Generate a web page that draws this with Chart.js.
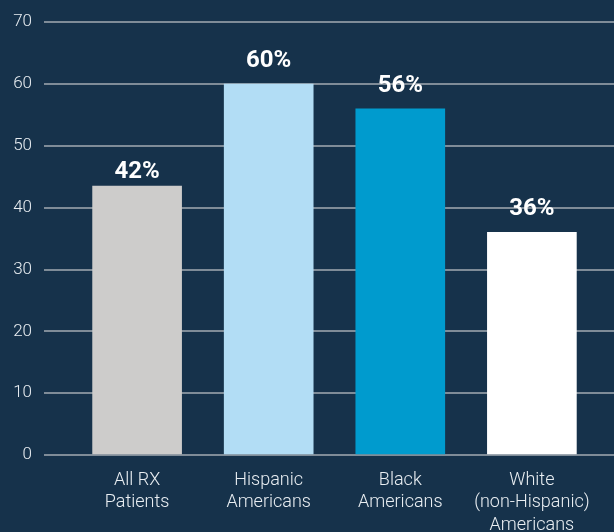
<!DOCTYPE html>
<html>
<head>
<meta charset="utf-8">
<script src="https://cdn.jsdelivr.net/npm/chart.js@4.4.1/dist/chart.umd.min.js"></script>
<style>
  html, body { margin: 0; padding: 0; background: #16324b; overflow: hidden; }
  canvas { display: block; }
</style>
</head>
<body>
<canvas id="chart" width="614" height="532"></canvas>
<script>
'use strict';

// ── Data ─────────────────────────────────────────────────────────────────────
const categories = [
  ['All RX', 'Patients'],
  ['Hispanic', 'Americans'],
  ['Black', 'Americans'],
  ['White', '(non-Hispanic)', 'Americans'],
];
const barValues   = [43.5, 60, 56, 36];      // bar heights as drawn
const labelValues = [42, 60, 56, 36];        // printed percentages
const yTicks      = [0, 10, 20, 30, 40, 50, 60, 70];

const COLORS = {
  bg:    '#16324b',
  grid:  '#7f8c98',
  text:  '#e9eef2',
  bars:  ['#cdcccb', '#b2ddf5', '#009bce', '#ffffff'],
};

// value labels above the bars, positioned on the y scale
const valueLabels = {
  id: 'valueLabels',
  afterDatasetsDraw(chart) {
    const { ctx, scales: { y } } = chart;
    const meta = chart.getDatasetMeta(0);
    ctx.save();
    ctx.fillStyle = '#ffffff';
    ctx.font = 'bold 24px Roboto';
    ctx.textAlign = 'center';
    ctx.textBaseline = 'alphabetic';
    meta.data.forEach((bar, i) => {
      ctx.fillText(labelValues[i] + '%', bar.x, y.getPixelForValue(labelValues[i]) - 17);
    });
    ctx.restore();
  },
};

new Chart(document.getElementById('chart'), {
  type: 'bar',
  data: {
    datasets: [{
      data: barValues.map((v, i) => ({ x: i, y: v })),
      backgroundColor: COLORS.bars,
      borderWidth: 0,
      barThickness: 89,
    }],
  },
  options: {
    responsive: false,
    animation: false,
    devicePixelRatio: 1,
    layout: { padding: { top: 20, right: 0, bottom: 0, left: 0 } },
    plugins: { legend: { display: false }, tooltip: { enabled: false } },
    scales: {
      x: {
        type: 'linear',
        offset: false,
        bounds: 'data',
        min: -0.7075,
        max: 3.624,
        grid: { display: false, drawTicks: false, offset: false },
        border: { display: false },
        afterBuildTicks: (s) => { s.ticks = categories.map((c, i) => ({ value: i })); },
        afterFit: (s) => { s.height = 77; },
        ticks: {
          color: COLORS.text,
          font: { family: 'Roboto', size: 18, weight: 300, lineHeight: 1.25 },
          padding: 14,
          maxRotation: 0,
          autoSkip: false,
          callback: (v) => categories[v],
        },
      },
      y: {
        min: 0,
        max: 70,
        afterBuildTicks: (s) => { s.ticks = yTicks.map(v => ({ value: v })); },
        afterFit: (s) => { s.width = 44; },
        grid: { color: COLORS.grid, lineWidth: 2, drawTicks: false },
        border: { display: false },
        ticks: {
          color: COLORS.text,
          font: { family: 'Roboto', size: 17, weight: 300 },
          padding: 12,
        },
      },
    },
  },
  plugins: [valueLabels],
});
</script>
</body>
</html>
